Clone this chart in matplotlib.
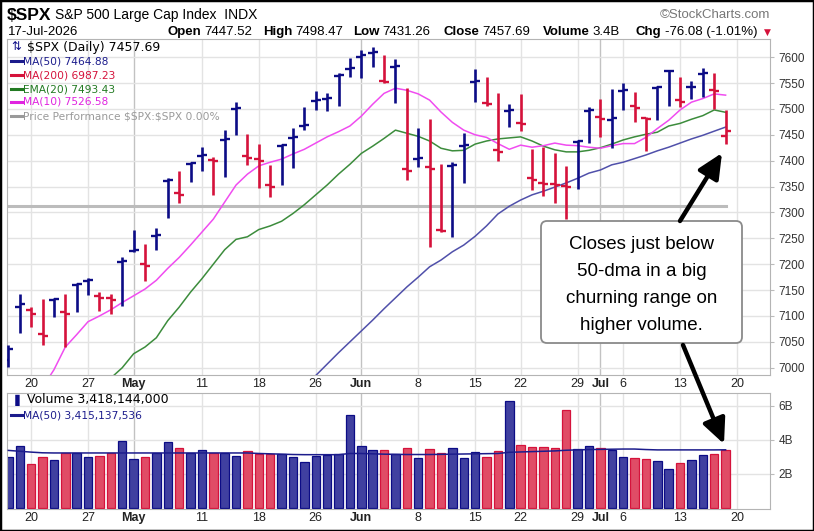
import numpy as np
import matplotlib.pyplot as plt
from matplotlib.patches import FancyBboxPatch, FancyArrowPatch, Rectangle
from matplotlib.lines import Line2D

plt.rcParams['font.family'] = ['Liberation Sans', 'DejaVu Sans']

# daily bars, 16-Apr-2026 .. 17-Jul-2026 (trading days)
opens = [7015, 7117, 7111.6, 7065, 7131, 7108, 7160, 7168, 7139, 7135,
         7204, 7225.5, 7200, 7254, 7361, 7337.5, 7393, 7409, 7401, 7440,
         7499.6, 7409, 7403, 7353, 7428, 7443.6, 7466.8, 7515, 7519, 7563.3,
         7576.8, 7600, 7607.7, 7553.7, 7580.7, 7383.8, 7403, 7387.6, 7266, 7389.6,
         7428, 7551.7, 7511.2, 7420.5, 7495.8, 7472.6, 7366.4, 7356.8, 7354.8, 7351,
         7435.9, 7495.8, 7484.2, 7479.3, 7534.4, 7505.4, 7482.2, 7540.2, 7573, 7517,
         7542.1, 7567.2, 7536, 7447.52]
highs = [7044, 7142.5, 7118, 7133, 7134, 7142.5, 7163, 7173, 7147, 7142.5,
         7213, 7267, 7240, 7269, 7366, 7380.5, 7397, 7427, 7407.5, 7460,
         7513.7, 7450.8, 7432, 7391.5, 7431.5, 7462.4, 7504, 7534.4, 7530, 7568.5,
         7597.5, 7613.5, 7619.9, 7603.9, 7595.6, 7539.6, 7462.4, 7479.7, 7392.9, 7397.9,
         7452.7, 7576.3, 7562, 7531, 7509.3, 7528.6, 7421.8, 7425.7, 7415.3, 7390.2,
         7439.8, 7504, 7518.3, 7537.6, 7549.2, 7533, 7483.6, 7544, 7574.9, 7562,
         7554.2, 7578.2, 7568.5, 7498.47]
lows = [7001.5, 7068, 7078, 7044, 7099, 7041, 7107, 7140.5, 7110, 7103,
        7120, 7224, 7168, 7227, 7289, 7317.6, 7358, 7380.5, 7333.6, 7369,
        7449.4, 7391.5, 7347.7, 7329, 7353, 7385, 7459, 7497.7, 7495.8, 7505.4,
        7560.8, 7559, 7581.3, 7549.2, 7511.8, 7362.5, 7388, 7232.6, 7262.7, 7251.9,
        7357.3, 7513.7, 7505.4, 7399, 7464.3, 7457.7, 7343.2, 7331.7, 7318.7, 7287.3,
        7345.2, 7433.4, 7446.1, 7423.7, 7497.7, 7475.1, 7419.1, 7478.4, 7506, 7504,
        7518.3, 7522.2, 7499, 7431.26]
closes = [7036, 7123, 7104, 7061, 7133, 7104, 7162, 7169.5, 7135, 7131,
          7206, 7227, 7196.5, 7256, 7362.5, 7333.6, 7395, 7411, 7399, 7441.7,
          7501.5, 7405, 7399, 7349, 7430, 7445.6, 7468.7, 7517, 7520.8, 7565.3,
          7578.8, 7603.9, 7609.7, 7551.7, 7582.6, 7380, 7405, 7383.8, 7264, 7391.5,
          7430, 7553.7, 7509.3, 7416.6, 7497.7, 7470.7, 7362.5, 7354.8, 7353.9, 7349,
          7437.8, 7497.7, 7480.3, 7482.2, 7536.3, 7501.5, 7480.3, 7542.1, 7573.9, 7513.1,
          7543, 7569.1, 7533.77, 7457.69]
prior_close = 7020

# volume in billions
volume = [2.97, 3.61, 2.60, 2.97, 2.82, 3.23, 3.23, 2.97, 3.03, 3.23,
          3.91, 2.89, 2.97, 3.23, 3.85, 3.54, 3.23, 3.38, 3.23, 3.23,
          3.03, 3.34, 3.15, 3.15, 3.19, 2.97, 2.68, 3.03, 3.13, 3.19,
          5.45, 3.61, 3.38, 3.38, 3.15, 3.52, 2.94, 3.46, 3.25, 3.52,
          2.94, 3.30, 3.01, 3.32, 6.30, 3.67, 3.60, 3.60, 3.52, 5.72,
          3.44, 3.65, 3.54, 3.42, 3.01, 2.95, 2.88, 2.74, 2.29, 2.66,
          2.82, 3.09, 3.17, 3.418]
vol_ma50 = [3.38, 3.33, 3.28, 3.24, 3.23, 3.23, 3.23, 3.23, 3.23, 3.23,
            3.23, 3.23, 3.23, 3.23, 3.23, 3.23, 3.23, 3.23, 3.23, 3.23,
            3.23, 3.23, 3.20, 3.18, 3.16, 3.14, 3.13, 3.13, 3.13, 3.13,
            3.20, 3.20, 3.18, 3.16, 3.15, 3.14, 3.14, 3.14, 3.15, 3.16,
            3.17, 3.18, 3.19, 3.20, 3.27, 3.29, 3.31, 3.33, 3.35, 3.39,
            3.41, 3.43, 3.44, 3.45, 3.46, 3.46, 3.43, 3.41, 3.41, 3.41,
            3.41, 3.41, 3.41, 3.415]

# overlays (start index, values)
ma10_start = 3
ma10 = [6962, 6996, 7040, 7064, 7089, 7100, 7112, 7126, 7139, 7152,
        7169, 7192, 7213, 7237, 7262, 7287, 7320, 7353, 7374, 7390,
        7397, 7403, 7413, 7422, 7434, 7446, 7456, 7467, 7486, 7509,
        7530, 7540, 7536, 7529, 7517, 7494, 7474, 7459, 7450, 7445,
        7433, 7422, 7430, 7426, 7429, 7434, 7430, 7429, 7426, 7424,
        7429, 7433, 7433, 7445, 7462, 7478, 7498, 7513, 7520, 7529,
        7526.58]
ema20_start = 9
ema20 = [6980, 7000, 7027, 7040, 7058, 7091, 7117, 7146, 7172, 7200,
         7228, 7248, 7253, 7267, 7274, 7283, 7298, 7315, 7334, 7353,
         7374, 7393, 7414, 7428, 7443, 7459, 7453, 7447, 7438, 7424,
         7419, 7420, 7432, 7438, 7442, 7444, 7446, 7438, 7428, 7421,
         7417, 7417, 7420, 7425, 7432, 7440, 7446, 7451, 7455, 7467,
         7472, 7480, 7487, 7498, 7493.43]
ma50_start = 26
ma50 = [6967, 6985, 7007, 7029, 7050, 7071, 7092, 7114, 7135, 7156,
        7175, 7195, 7208, 7224, 7237, 7254, 7274, 7297, 7312, 7324,
        7334, 7341, 7349, 7357, 7366, 7376, 7382, 7392, 7397, 7404,
        7411, 7419, 7426, 7434, 7442, 7449, 7457, 7464.88]
perf_level = 7313

tick_pos = [2, 7, 11, 17, 22, 27, 31, 36, 41, 45, 50, 52, 54, 59, 64]
tick_labels = ["20", "27", "May", "11", "18", "26", "Jun", "8", "15", "22",
               "29", "Jul", "6", "13", "20"]
price_ticks = list(range(7000, 7601, 50))
vol_ticks = [2, 4, 6]

UP, DOWN = '#0c0c86', '#d5123b'
UP_FILL, DOWN_FILL = '#4040a0', '#e04c66'
MAGENTA, GREEN, SLATE = '#f04cf0', '#3c8c3c', '#5050aa'

W, H = 814, 531
fig = plt.figure(figsize=(W / 100, H / 100), dpi=100)


def fx(x):
    return x / W


def fy(y):
    return 1 - y / H


ax = fig.add_axes([fx(7), fy(375), fx(770) - fx(7), fy(38.5) - fy(375)])
axv = fig.add_axes([fx(7), fy(509), fx(770) - fx(7), fy(392.5) - fy(509)])

n = len(closes)
x = np.arange(n)
prev = [prior_close] + closes[:-1]
up = [c >= p for c, p in zip(closes, prev)]
col = [UP if u else DOWN for u in up]

for a in (ax, axv):
    for p, lab in zip(tick_pos, tick_labels):
        a.axvline(p, color='#c2c2c2' if lab.isalpha() else '#e3e3e3', lw=1, zorder=0)
    a.set_xlim(-0.12, 66.9)
    a.set_xticks(tick_pos)
    a.set_xticklabels(tick_labels)
    for t in a.get_xticklabels():
        if t.get_text().isalpha():
            t.set_fontweight('bold')
    a.tick_params(axis='x', length=0, pad=2, labelsize=9, colors='#222222')
    a.yaxis.tick_right()
    a.tick_params(axis='y', length=3, color='#bbbbbb', pad=3, labelsize=8.5, labelcolor='#333333')
    for s in a.spines.values():
        s.set_color('#b4b4b4')

for v in price_ticks:
    ax.axhline(v, color='#e3e3e3', lw=1, zorder=0)
ax.set_ylim(6986, 7636)
ax.set_yticks(price_ticks)

ax.plot([0, n - 1], [perf_level, perf_level], color='#bcbcbc', lw=2.2, zorder=1)
ax.plot(np.arange(ma50_start, n), ma50, color=SLATE, lw=1.1, zorder=2)
ax.plot(np.arange(ema20_start, n), ema20, color=GREEN, lw=1.1, zorder=2)
ax.plot(np.arange(ma10_start, n), ma10, color=MAGENTA, lw=1.1, zorder=2)

ax.vlines(x, lows, highs, colors=col, lw=1.9, zorder=3)
ax.hlines(opens, x - 0.44, x, colors=col, lw=1.7, zorder=3)
ax.hlines(closes, x, x + 0.44, colors=col, lw=1.7, zorder=3)

for v in vol_ticks:
    axv.axhline(v, color='#e3e3e3', lw=1, zorder=0)
axv.bar(x, volume, width=0.74, color=[UP_FILL if u else DOWN_FILL for u in up],
        edgecolor=col, lw=0.9, zorder=2)
axv.plot(x, vol_ma50, color='#1c1c8c', lw=1.1, zorder=3)
axv.set_ylim(-0.05, 6.77)
axv.set_yticks(vol_ticks)
axv.set_yticklabels([f"{v}B" for v in vol_ticks])

# header
fig.text(fx(7), fy(15), r"\$SPX", fontsize=12.5, fontweight='bold', va='center')
fig.text(fx(55), fy(15), "S&P 500 Large Cap Index  INDX", fontsize=10, va='center')
fig.text(fx(770), fy(15), "\u00a9StockCharts.com", fontsize=9.5, va='center', ha='right', color='#777777')
fig.text(fx(8), fy(32), "17-Jul-2026", fontsize=9.5, va='center')

renderer = fig.canvas.get_renderer()
header = [(168, "Open", "7447.52"), (263, "High", "7498.47"), (353, "Low", "7431.26"),
          (443, "Close", "7457.69"), (543, "Volume", "3.4B"), (636, "Chg", "-76.08 (-1.01%)")]
for hx, label, value in header:
    t = fig.text(fx(hx), fy(32), label, fontsize=9.5, va='center', fontweight='bold')
    end = t.get_window_extent(renderer).x1
    fig.text((end + 3) / W, fy(32), value, fontsize=9.5, va='center')
fig.text(fx(767), fy(32), "\u25bc", fontsize=6.5, va='center', ha='center', color=DOWN,
         family='DejaVu Sans')

# price legend
fig.text(fx(11), fy(47), "\u21c5", fontsize=8.5, va='center', color=UP, family='DejaVu Sans')
fig.text(fx(27), fy(47), r"\$SPX (Daily) 7457.69", fontsize=9, va='center', family='DejaVu Sans')
legend = [(61, "MA(50) 7464.88", '#1c1c8c'), (75, "MA(200) 6987.23", '#d5123b'),
          (89, "EMA(20) 7493.43", '#227a22'), (102, "MA(10) 7526.58", '#e024e0'),
          (116, r"Price Performance \$SPX:\$SPX 0.00%", '#9a9a9a')]
for ly, txt, c in legend:
    fig.add_artist(Line2D([fx(11), fx(22)], [fy(ly), fy(ly)], color=c, lw=2.2))
    fig.text(fx(23), fy(ly), txt, fontsize=7.7, va='center', color=c, family='DejaVu Sans')

# volume legend
fig.text(fx(11), fy(400), "\u2590", fontsize=8, va='center', color=UP, family='DejaVu Sans')
fig.text(fx(27), fy(400), "Volume 3,418,144,000", fontsize=9, va='center', family='DejaVu Sans')
fig.add_artist(Line2D([fx(11), fx(22)], [fy(415), fy(415)], color='#1c1c8c', lw=2.2))
fig.text(fx(23), fy(415), "MA(50) 3,415,137,536", fontsize=7.7, va='center', color='#1c1c8c',
         family='DejaVu Sans')

# annotation
box = FancyBboxPatch((5.41, (H - 343) / 100), 2.01, 1.22,
                     boxstyle="round,pad=0,rounding_size=0.06",
                     transform=fig.dpi_scale_trans, fc='white', ec='#8a8a8a', lw=1.3, zorder=5)
fig.add_artist(box)
note = ["Closes just below", "50-dma in a big", "churning range on", "higher volume."]
for k, line in enumerate(note):
    fig.text(fx(641.5), fy(245 + 26.7 * k), line, fontsize=13.5, ha='center', va='center',
             color='black', zorder=6)

for (x0, y0), (x1, y1) in [((680, 221), (722, 153)), ((683, 345), (724, 444))]:
    arr = FancyArrowPatch((x0 / 100, (H - y0) / 100), (x1 / 100, (H - y1) / 100),
                          transform=fig.dpi_scale_trans,
                          arrowstyle='-|>,head_length=0.75,head_width=0.35',
                          mutation_scale=20, lw=3.2, color='black',
                          shrinkA=0, shrinkB=0, zorder=7)
    fig.add_artist(arr)

fig.add_artist(Rectangle((0, 0), 1, 1, transform=fig.transFigure, fill=False,
                         ec='black', lw=2.5))

fig.savefig('out.png', dpi=100)
